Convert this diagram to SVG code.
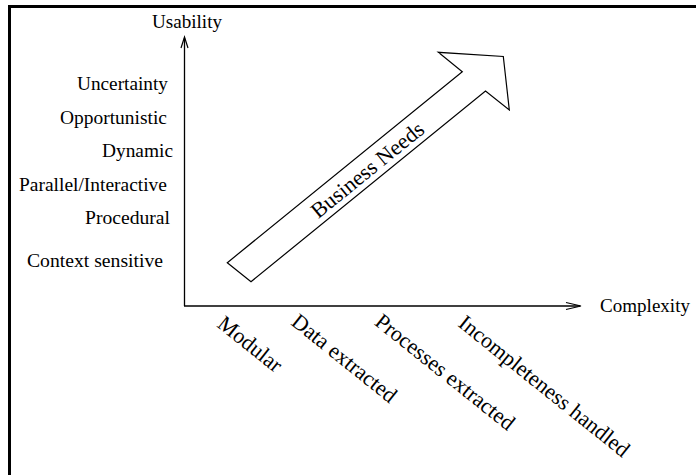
<svg xmlns="http://www.w3.org/2000/svg" width="696" height="475" viewBox="0 0 696 475">
<style>
.t{font-family:"Liberation Serif","Times New Roman",serif;font-size:19px;fill:#000}
.r{font-family:"Liberation Serif","Times New Roman",serif;font-size:22px;fill:#000}
.ax{stroke:#000;stroke-width:1.3;fill:none}
.ah{stroke:#000;stroke-width:1.2;fill:none}
</style>
<rect x="0" y="0" width="696" height="475" fill="#fff"/>
<rect x="9.5" y="6.5" width="700" height="500" fill="none" stroke="#000" stroke-width="3"/>
<g id="connectors">
<line class="ax" x1="184.5" y1="306" x2="184.5" y2="38"/>
<polyline class="ah" points="181,48 184.5,37 188,48"/>
<line class="ax" x1="184" y1="306" x2="580" y2="306"/>
<polyline class="ah" points="566,302.5 581,306 566,309.5"/>
</g>
<g id="business-needs">
<polygon points="227.3,262.7 251,281.7 485.5,91 509.3,110 503.3,56.5 438.3,52.3 462.3,71.7" fill="#fff" stroke="#000" stroke-width="1.2" stroke-linejoin="miter"/>
<text class="r" text-anchor="middle" transform="translate(372,175.5) rotate(-39.1)">Business Needs</text>
</g>
<g id="y-axis-labels">
<text id="usability" class="t" x="152" y="28" textLength="70" lengthAdjust="spacingAndGlyphs">Usability</text>
<text id="uncertainty" class="t" x="77" y="90" textLength="91" lengthAdjust="spacingAndGlyphs">Uncertainty</text>
<text id="opportunistic" class="t" x="60" y="124" textLength="107" lengthAdjust="spacingAndGlyphs">Opportunistic</text>
<text id="dynamic" class="t" x="102" y="157" textLength="71" lengthAdjust="spacingAndGlyphs">Dynamic</text>
<text id="parallel" class="t" x="19" y="191" textLength="148" lengthAdjust="spacingAndGlyphs">Parallel/Interactive</text>
<text id="procedural" class="t" x="85" y="224" textLength="85" lengthAdjust="spacingAndGlyphs">Procedural</text>
<text id="context" class="t" x="27" y="267" textLength="136" lengthAdjust="spacingAndGlyphs">Context sensitive</text>
</g>
<g id="x-axis-labels">
<text id="complexity" class="t" x="600" y="312" textLength="90" lengthAdjust="spacingAndGlyphs">Complexity</text>
<text id="modular" class="r" transform="translate(216,326) rotate(38.7)">Modular</text>
<text id="data" class="r" transform="translate(290,324) rotate(38.7)">Data extracted</text>
<text id="processes" class="r" transform="translate(373.5,324) rotate(38.7)">Processes extracted</text>
<text id="incompleteness" class="r" transform="translate(457,325.5) rotate(38.7)">Incompleteness handled</text>
</g>
</svg>
